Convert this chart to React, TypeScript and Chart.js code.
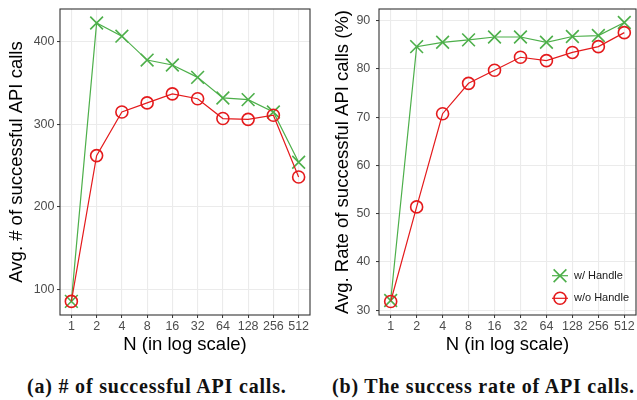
import React, { useEffect, useRef } from "react";
import { Chart, registerables } from "chart.js";

Chart.register(...registerables);

// ---------- data ----------
const nLabels = ["1", "2", "4", "8", "16", "32", "64", "128", "256", "512"];
const seriesNames = ["w/ Handle", "w/o Handle"];
const callsWithHandle = [85, 423, 407, 378, 372, 357, 332, 330, 315, 254];
const callsWithoutHandle = [85, 262, 315, 326, 337, 331, 307, 306, 311, 236];
const rateWithHandle = [32.0, 84.6, 85.5, 86.0, 86.6, 86.6, 85.5, 86.7, 86.9, 89.6];
const rateWithoutHandle = [31.8, 51.4, 70.7, 77.0, 79.7, 82.4, 81.7, 83.4, 84.6, 87.5];
const callsTicks = [100, 200, 300, 400];
const rateTicks = [30, 40, 50, 60, 70, 80, 90];
const xTitle = "N (in log scale)";
const callsTitle = "Avg. # of successful API calls";
const rateTitle = "Avg. Rate of successful API calls (%)";
const captionA = "(a) # of successful API calls.";
const captionB = "(b) The success rate of API calls.";

// ---------- styles ----------
const SANS = "'Liberation Sans', Arial, Helvetica, sans-serif";
const SERIF = "'Liberation Serif', 'Times New Roman', serif";
const GREEN = "#4DAF4A";
const RED = "#E41A1C";

function makeDatasets(withH: number[], withoutH: number[]) {
  return [
    {
      label: seriesNames[0],
      data: withH.map((y, i) => ({ x: i, y })),
      borderColor: GREEN,
      backgroundColor: GREEN,
      borderWidth: 1.2,
      pointStyle: "crossRot",
      pointRadius: 9,
      pointHoverRadius: 9,
      pointBorderWidth: 1.6,
      pointBorderColor: GREEN,
      pointBackgroundColor: GREEN,
      tension: 0,
      order: 1,
    },
    {
      label: seriesNames[1],
      data: withoutH.map((y, i) => ({ x: i, y })),
      borderColor: RED,
      backgroundColor: RED,
      borderWidth: 1.2,
      pointStyle: "circle",
      pointRadius: 6,
      pointHoverRadius: 6,
      pointBorderWidth: 1.6,
      pointBorderColor: RED,
      pointBackgroundColor: "rgba(0,0,0,0)",
      tension: 0,
      order: 0,
    },
  ];
}

const borderPlugin = {
  id: "panelBorder",
  afterDraw(chart: any) {
    const { ctx, chartArea: a } = chart;
    ctx.save();
    ctx.strokeStyle = "#333333";
    ctx.lineWidth = 1.1;
    ctx.strokeRect(a.left, a.top, a.right - a.left, a.bottom - a.top);
    ctx.restore();
  },
};

const insideLegendPlugin = {
  id: "insideLegend",
  afterDraw(chart: any) {
    const { ctx, chartArea: a } = chart;
    const ds = chart.data.datasets;
    const mx = a.right - 76;
    const rows = [a.bottom - 39.3, a.bottom - 16.7];
    ctx.save();
    ds.forEach((d: any, i: number) => {
      const y = rows[i];
      ctx.strokeStyle = d.borderColor;
      ctx.lineWidth = 1.2;
      ctx.beginPath();
      ctx.moveTo(mx - 8, y);
      ctx.lineTo(mx + 8, y);
      ctx.stroke();
      ctx.lineWidth = 1.6;
      ctx.beginPath();
      if (d.pointStyle === "crossRot") {
        const o = d.pointRadius * Math.SQRT1_2;
        ctx.moveTo(mx - o, y - o);
        ctx.lineTo(mx + o, y + o);
        ctx.moveTo(mx + o, y - o);
        ctx.lineTo(mx - o, y + o);
      } else {
        ctx.arc(mx, y, d.pointRadius, 0, Math.PI * 2);
      }
      ctx.stroke();
      ctx.fillStyle = "#1a1a1a";
      ctx.font = `11px ${SANS}`;
      ctx.textBaseline = "middle";
      ctx.textAlign = "left";
      ctx.fillText(d.label, mx + 14, y);
    });
    ctx.restore();
  },
};

type PanelProps = {
  left: number;
  width: number;
  height: number;
  yWidth: number;
  xHeight: number;
  padRight: number;
  yMin: number;
  yMax: number;
  yTicks: number[];
  yTitle: string;
  yTitlePad: number;
  yTickPad: number;
  withH: number[];
  withoutH: number[];
  legend: boolean;
};

function zeroPad(s: any) {
  s.paddingLeft = 0;
  s.paddingRight = 0;
  s.paddingTop = 0;
  s.paddingBottom = 0;
}

function Panel(p: PanelProps) {
  const ref = useRef<HTMLCanvasElement | null>(null);
  useEffect(() => {
    if (!ref.current) return;
    const chart = new Chart(ref.current, {
      type: "line",
      data: { datasets: makeDatasets(p.withH, p.withoutH) as any },
      options: {
        animation: false,
        responsive: true,
        maintainAspectRatio: false,
        layout: {
          autoPadding: false,
          padding: { top: 9, right: p.padRight, left: 0, bottom: 0 },
        },
        plugins: { legend: { display: false }, tooltip: { enabled: false } },
        scales: {
          x: {
            type: "linear",
            min: -0.45,
            max: 9.45,
            afterBuildTicks: (s: any) => {
              s.ticks = nLabels.map((_, i) => ({ value: i }));
            },
            afterFit: (s: any) => {
              s.height = p.xHeight;
              zeroPad(s);
            },
            ticks: {
              callback: (v: any) => nLabels[Math.round(Number(v))] ?? "",
              color: "#4d4d4d",
              font: { family: SANS, size: 12.5 },
              padding: 1,
              maxRotation: 0,
              autoSkip: false,
            },
            grid: {
              color: "#ebebeb",
              lineWidth: 1.1,
              drawTicks: true,
              tickLength: 3,
              tickColor: "#333333",
              tickWidth: 1,
            },
            border: { display: false },
            title: {
              display: true,
              text: xTitle,
              color: "#000000",
              font: { family: SANS, size: 18.5 },
              padding: { top: 0, bottom: 2 },
            },
          },
          y: {
            type: "linear",
            min: p.yMin,
            max: p.yMax,
            afterBuildTicks: (s: any) => {
              s.ticks = p.yTicks.map((v) => ({ value: v }));
            },
            afterFit: (s: any) => {
              s.width = p.yWidth;
              zeroPad(s);
            },
            ticks: {
              color: "#4d4d4d",
              font: { family: SANS, size: 12.5 },
              padding: p.yTickPad,
            },
            grid: {
              color: "#ebebeb",
              lineWidth: 1.1,
              drawTicks: true,
              tickLength: 3,
              tickColor: "#333333",
              tickWidth: 1,
            },
            border: { display: false },
            title: {
              display: true,
              text: p.yTitle,
              color: "#000000",
              font: { family: SANS, size: 18.5 },
              padding: { top: p.yTitlePad, bottom: 0 },
            },
          },
        },
      },
      plugins: p.legend ? [borderPlugin, insideLegendPlugin] : [borderPlugin],
    } as any);
    return () => chart.destroy();
  }, []);
  return (
    <div
      style={{
        position: "absolute",
        left: p.left,
        top: 0,
        width: p.width,
        height: p.height,
      }}
    >
      <canvas ref={ref} />
    </div>
  );
}

export default function App() {
  const captionStyle: React.CSSProperties = {
    position: "absolute",
    top: 376,
    fontFamily: SERIF,
    fontWeight: "bold",
    fontSize: 20,
    lineHeight: "20px",
    letterSpacing: 0.8,
    whiteSpace: "nowrap",
    color: "#111",
  };
  return (
    <div
      style={{
        position: "absolute",
        left: 0,
        top: 0,
        width: 637,
        height: 400,
        background: "#ffffff",
        overflow: "hidden",
      }}
    >
      <Panel
        left={0}
        width={318}
        height={358}
        yWidth={60}
        xHeight={43}
        padRight={8}
        yMin={68.5}
        yMax={440}
        yTicks={callsTicks}
        yTitle={callsTitle}
        yTitlePad={6}
        yTickPad={2.5}
        withH={callsWithHandle}
        withoutH={callsWithoutHandle}
        legend={false}
      />
      <Panel
        left={318}
        width={319}
        height={358}
        yWidth={61}
        xHeight={43}
        padRight={1}
        yMin={29}
        yMax={92.4}
        yTicks={rateTicks}
        yTitle={rateTitle}
        yTitlePad={14}
        yTickPad={5.7}
        withH={rateWithHandle}
        withoutH={rateWithoutHandle}
        legend={true}
      />
      <div style={{ ...captionStyle, left: 27 }}>{captionA}</div>
      <div style={{ ...captionStyle, left: 332 }}>{captionB}</div>
    </div>
  );
}
